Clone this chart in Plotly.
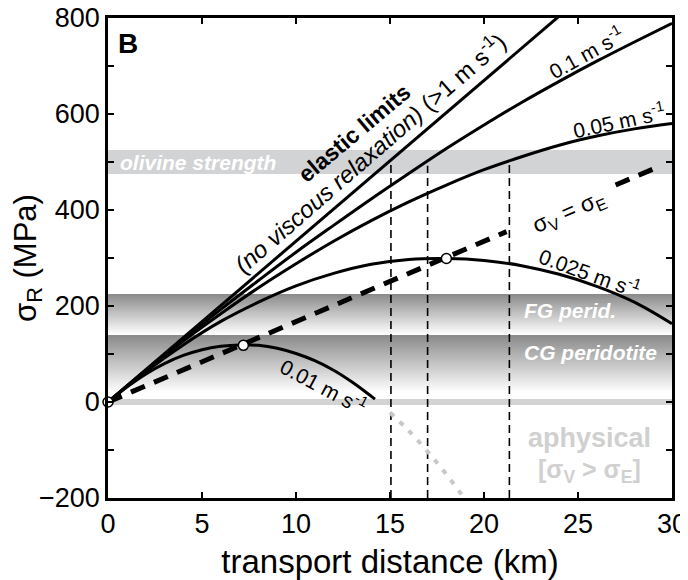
import plotly.graph_objects as go

# ---------------- data ----------------
dist_km = [0, 2, 4, 6, 8, 10, 12, 14, 16, 18, 20, 22, 24, 26, 28, 30]
stress_01 = [0, 66, 130, 193, 253, 312, 368, 423, 476, 528, 577, 624, 668, 710, 750, 789]
stress_005 = [0, 65, 127, 184, 238, 288, 335, 378, 417, 452, 484, 511, 535, 554, 569, 580]
stress_0025 = [0, 63, 119, 168, 208, 242, 268, 287, 297, 299, 295, 284, 266, 241, 208, 163]

elastic_x = [0, 30]
elastic_y = [0, 1005]

dist_001 = [0, 1, 2, 3, 4, 5, 6, 7, 8, 9, 10, 11, 12, 13, 14, 14.2]
stress_001 = [0, 31, 58, 80, 97, 109, 116, 119, 118, 112, 101, 86, 66, 41, 12, 6]

aphys_x = [15.0, 16, 17, 18, 19]
aphys_y = [-22, -60, -103, -151, -203]

equal_x = [0, 21.2, None, 27.0, 29.4]
equal_y = [0, 355, None, 452, 492]

vline_x = [15.05, 17.0, 21.35]
vline_top = [497, 492, 498]

peak_x = [0, 7.2, 18.0]
peak_y = [0, 118, 299]

olivine_band = [475, 525]
fg_band = [140, 225]
cg_band = [20, 139]
zero_level = 0

x_ticks = [0, 5, 10, 15, 20, 25, 30]
y_ticks = [-200, 0, 200, 400, 600, 800]

FONT = "Liberation Sans, Arial, Helvetica, sans-serif"

fig = go.Figure()

# ---------------- background bands ----------------
shapes = []
shapes.append(dict(type="rect", xref="x", yref="y", x0=0, x1=30,
                   y0=olivine_band[0], y1=olivine_band[1],
                   fillcolor="#d2d3d5", line=dict(width=0), layer="below"))


def gradient(band, n=60, dark=138, light=255):
    # stacked rects: each spans from its lower edge to the band top,
    # drawn light -> dark so no seams appear
    lo, hi = band
    out = []
    for i in range(n):
        ya = lo + (hi - lo) * i / n
        f = (i + 0.5) / n
        g = int(round(light + (dark - light) * f))
        out.append(dict(type="rect", xref="x", yref="y", x0=0, x1=30, y0=ya, y1=hi,
                        fillcolor=f"rgb({g},{g},{g})", line=dict(width=0), layer="below"))
    return out


shapes += gradient(fg_band)
shapes += gradient(cg_band)
shapes.append(dict(type="line", xref="x", yref="y", x0=0, x1=30, y0=zero_level, y1=zero_level,
                   line=dict(color="#d3d3d3", width=6), layer="below"))

# ---------------- vertical dashed lines ----------------
vx, vy = [], []
for xv, top in zip(vline_x, vline_top):
    vx += [xv, xv, None]
    vy += [-200, top, None]
fig.add_trace(go.Scatter(x=vx, y=vy, mode="lines",
                         line=dict(color="black", width=1.6, dash="8px,5px"),
                         hoverinfo="skip", showlegend=False))

# aphysical continuation
fig.add_trace(go.Scatter(x=aphys_x, y=aphys_y, mode="lines", line_shape="spline",
                         line=dict(color="#c8c8c8", width=4, dash="5px,8px"),
                         showlegend=False))

# curves
line_style = dict(color="black", width=3)
fig.add_trace(go.Scatter(x=elastic_x, y=elastic_y, mode="lines", line=line_style, showlegend=False))
for ys in (stress_01, stress_005, stress_0025):
    fig.add_trace(go.Scatter(x=dist_km, y=ys, mode="lines", line_shape="spline",
                             line=line_style, showlegend=False))
fig.add_trace(go.Scatter(x=dist_001, y=stress_001, mode="lines", line_shape="spline",
                         line=line_style, showlegend=False))

# sigma_V = sigma_E
fig.add_trace(go.Scatter(x=equal_x, y=equal_y, mode="lines",
                         line=dict(color="black", width=5, dash="15px,10px"),
                         showlegend=False))

# markers
fig.add_trace(go.Scatter(x=peak_x, y=peak_y, mode="markers", cliponaxis=False,
                         marker=dict(size=10, color="white", line=dict(color="black", width=1.5)),
                         showlegend=False))

# ---------------- annotations ----------------
ann = []


def A(x, y, text, size=20, color="black", angle=0, xanchor="center", **kw):
    ann.append(dict(x=x, y=y, xref="x", yref="y", text=text, showarrow=False,
                    font=dict(family=FONT, size=size, color=color), textangle=angle,
                    xanchor=xanchor, yanchor="middle", **kw))


A(1.06, 747, "<b>B</b>", size=28)
A(0.55, 500, "<b><i>olivine strength</i></b>", size=21, color="white", xanchor="left")
A(13.1, 561, "<b>elastic limits</b>", size=23, angle=-40)
A(13.9, 521, "<i>(no viscous relaxation)</i> (>1 m s<sup>-1</sup>)", size=24, angle=-41)
A(25.45, 729, "0.1 m s<sup>-1</sup>", size=21, angle=-29)
A(27.2, 588, "0.05 m s<sup>-1</sup>", size=21, angle=-12)
A(25.6, 270, "0.025 m s<sup>-1</sup>", size=21, angle=20)
A(11.5, 34, "0.01 m s<sup>-1</sup>", size=21, angle=28)
A(24.5, 395, "σ<sub>V</sub> = σ<sub>E</sub>", size=23, angle=-23)
A(22.0, 190, "<b><i>FG perid.</i></b>", size=21, color="white", xanchor="left")
A(22.0, 103, "<b><i>CG peridotite</i></b>", size=21, color="white", xanchor="left")
A(25.6, -74, "<b>aphysical</b>", size=27, color="#d0d0d0")
A(25.6, -143, "<b>[σ<sub>V</sub> > σ<sub>E</sub>]</b>", size=25, color="#d0d0d0")

# the page body adds an 8 px offset, so the figure is 8 px smaller and margins compensate
fig.update_layout(
    width=680, height=572,
    margin=dict(l=100, r=16, t=10, b=82, autoexpand=False),
    paper_bgcolor="white", plot_bgcolor="white",
    shapes=shapes, annotations=ann,
    font=dict(family=FONT, color="black"),
    showlegend=False,
)
fig.update_xaxes(range=[0, 30], tickvals=x_ticks, ticks="inside", ticklen=6, tickwidth=1.5,
                 tickcolor="black", showline=True, linecolor="black", linewidth=2.5,
                 mirror="ticks", showgrid=False, zeroline=False, automargin=False,
                 ticklabeloverflow="allow",
                 tickfont=dict(size=27, family=FONT),
                 title=dict(text="transport distance (km)", font=dict(size=33, family=FONT), standoff=12))
fig.update_yaxes(range=[-200, 800], tickvals=y_ticks, ticks="inside", ticklen=6, tickwidth=1.5,
                 tickcolor="black", showline=True, linecolor="black", linewidth=2.5,
                 mirror="ticks", showgrid=False, zeroline=False, automargin=False,
                 ticklabeloverflow="allow",
                 minor=dict(dtick=100, tick0=0, ticks="inside", ticklen=6, tickwidth=1.5, tickcolor="black"),
                 tickfont=dict(size=27, family=FONT),
                 title=dict(text="σ<sub>R</sub> (MPa)", font=dict(size=31, family=FONT), standoff=10))

fig.write_html("out.html")
